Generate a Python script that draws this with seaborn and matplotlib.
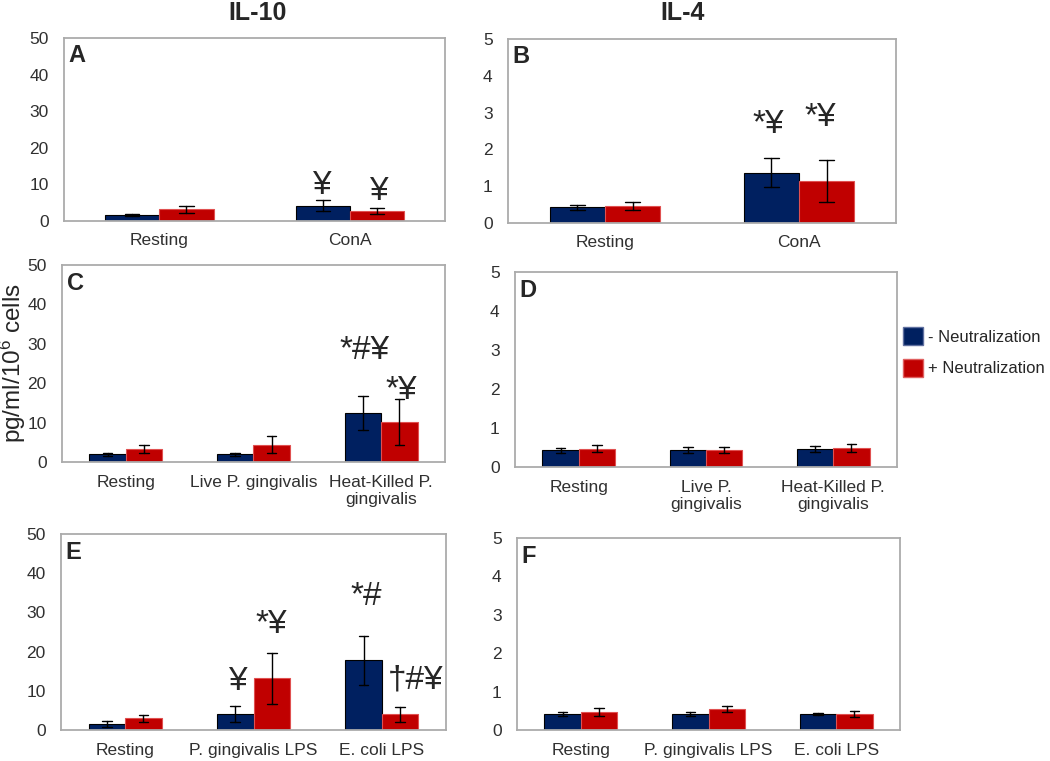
import seaborn as sns
import matplotlib
matplotlib.use('Agg')
import matplotlib.pyplot as plt
import pandas as pd
from matplotlib.patches import Patch

# series / colours
groups = ['- Neutralization', '+ Neutralization']
colors = ['#002060', '#C00000']

# IL-10 panels (pg/ml/10^6 cells), mean and error
a_cats = ['Resting', 'ConA']
a_minus, a_minus_err = [1.6, 4.1], [0.2, 1.5]
a_plus, a_plus_err = [3.2, 2.7], [1.0, 0.9]

c_cats = ['Resting', 'Live P. gingivalis', 'Heat-Killed P.\ngingivalis']
c_minus, c_minus_err = [1.95, 1.95, 12.4], [0.4, 0.4, 4.3]
c_plus, c_plus_err = [3.3, 4.4, 10.1], [0.9, 2.1, 5.8]

e_cats = ['Resting', 'P. gingivalis LPS', 'E. coli LPS']
e_minus, e_minus_err = [1.55, 4.1, 17.8], [0.7, 2.0, 6.3]
e_plus, e_plus_err = [3.05, 13.2, 4.0], [0.9, 6.5, 1.9]

# IL-4 panels
b_cats = ['Resting', 'ConA']
b_minus, b_minus_err = [0.43, 1.37], [0.07, 0.39]
b_plus, b_plus_err = [0.45, 1.14], [0.11, 0.58]

d_cats = ['Resting', 'Live P.\ngingivalis', 'Heat-Killed P.\ngingivalis']
d_minus, d_minus_err = [0.43, 0.43, 0.46], [0.06, 0.08, 0.08]
d_plus, d_plus_err = [0.47, 0.44, 0.49], [0.085, 0.08, 0.1]

f_cats = ['Resting', 'P. gingivalis LPS', 'E. coli LPS']
f_minus, f_minus_err = [0.42, 0.42, 0.42], [0.06, 0.06, 0.03]
f_plus, f_plus_err = [0.47, 0.54, 0.42], [0.1, 0.08, 0.08]

# significance marks: (x, y, text)
a_marks = [(0.85, 9.8, '¥'), (1.15, 8.0, '¥')]
b_marks = [(0.84, 2.68, '*¥'), (1.11, 2.87, '*¥')]
c_marks = [(1.87, 28.4, '*#¥'), (2.16, 18.2, '*¥')]
e_marks = [(0.87, 12.3, '¥'), (1.14, 26.9, '*¥'), (1.88, 34.0, '*#'), (2.26, 12.8, '†#¥')]


def make_df(cats, minus, minus_err, plus, plus_err):
    # two rows per bar (mean-err, mean+err): mean is the bar, min/max the error bar
    rows = []
    for g, means, errs in zip(groups, [minus, plus], [minus_err, plus_err]):
        for c, m, e in zip(cats, means, errs):
            rows.append({'cat': c, 'group': g, 'val': m - e})
            rows.append({'cat': c, 'group': g, 'val': m + e})
    return pd.DataFrame(rows)


def draw_panel(ax, letter, cats, minus, minus_err, plus, plus_err, ymax, marks):
    df = make_df(cats, minus, minus_err, plus, plus_err)
    sns.barplot(data=df, x='cat', y='val', hue='group', order=cats,
                hue_order=groups, palette=colors, saturation=1, width=0.57,
                estimator='mean', errorbar=lambda v: (v.min(), v.max()),
                capsize=0.15, err_kws={'color': 'black', 'linewidth': 1},
                legend=False, ax=ax)
    for bar in ax.containers[0]:
        bar.set_edgecolor('black')
        bar.set_linewidth(0.8)
    for bar in ax.containers[1]:
        bar.set_edgecolor('#E05050')
        bar.set_linewidth(0.8)
    ax.set_ylim(0, ymax)
    ax.set_yticks([ymax * i / 5 for i in range(6)])
    ax.set_yticklabels([f'{ymax * i / 5:g}' for i in range(6)])
    ax.set_xlabel('')
    ax.set_ylabel('')
    ax.tick_params(axis='both', length=0, labelsize=12.5, colors='#303030')
    ax.tick_params(axis='y', pad=11)
    ax.tick_params(axis='x', pad=9)
    for s in ax.spines.values():
        s.set_visible(True)
        s.set_color('#ABABAB')
        s.set_linewidth(1.3)
    ax.text(0.012, 0.965, letter, transform=ax.transAxes, fontsize=17,
            fontweight='bold', va='top', ha='left')
    for x, y, t in marks:
        ax.text(x, y, t, fontsize=24, ha='center', va='center')


def main():
    sns.set_style('white')
    plt.rcParams['font.family'] = ['Liberation Sans', 'DejaVu Sans']
    plt.rcParams['mathtext.default'] = 'regular'

    fig = plt.figure(figsize=(10.5, 7.61), dpi=100)
    ax_a = fig.add_axes([0.061, 0.7096, 0.363, 0.2405])
    ax_b = fig.add_axes([0.4838, 0.707, 0.3695, 0.2418])
    ax_c = fig.add_axes([0.059, 0.3929, 0.3648, 0.2589])
    ax_d = fig.add_axes([0.4905, 0.3863, 0.3638, 0.2562])
    ax_e = fig.add_axes([0.0581, 0.0407, 0.3667, 0.2576])
    ax_f = fig.add_axes([0.4924, 0.0407, 0.3648, 0.2523])

    draw_panel(ax_a, 'A', a_cats, a_minus, a_minus_err, a_plus, a_plus_err, 50, a_marks)
    draw_panel(ax_b, 'B', b_cats, b_minus, b_minus_err, b_plus, b_plus_err, 5, b_marks)
    draw_panel(ax_c, 'C', c_cats, c_minus, c_minus_err, c_plus, c_plus_err, 50, c_marks)
    draw_panel(ax_d, 'D', d_cats, d_minus, d_minus_err, d_plus, d_plus_err, 5, [])
    draw_panel(ax_e, 'E', e_cats, e_minus, e_minus_err, e_plus, e_plus_err, 50, e_marks)
    draw_panel(ax_f, 'F', f_cats, f_minus, f_minus_err, f_plus, f_plus_err, 5, [])

    fig.text(258 / 1050, 1 - 13 / 761, 'IL-10', fontsize=18, fontweight='bold',
             ha='center', va='center')
    fig.text(683 / 1050, 1 - 13 / 761, 'IL-4', fontsize=18, fontweight='bold',
             ha='center', va='center')
    fig.text(13 / 1050, 1 - 363 / 761, 'pg/ml/10$^{6}$ cells', fontsize=17.5,
             rotation=90, ha='center', va='center')

    handles = [Patch(facecolor=colors[0], edgecolor='#6070A0', label=groups[0]),
               Patch(facecolor=colors[1], edgecolor='#E06060', label=groups[1])]
    fig.legend(handles=handles, loc='center left',
               bbox_to_anchor=(896 / 1050, 1 - 352 / 761), frameon=False,
               fontsize=12, handlelength=1.2, handleheight=1.3,
               handletextpad=0.3, labelspacing=0.8, borderaxespad=0)

    plt.savefig('out.png', dpi=100)


if __name__ == '__main__':
    main()
